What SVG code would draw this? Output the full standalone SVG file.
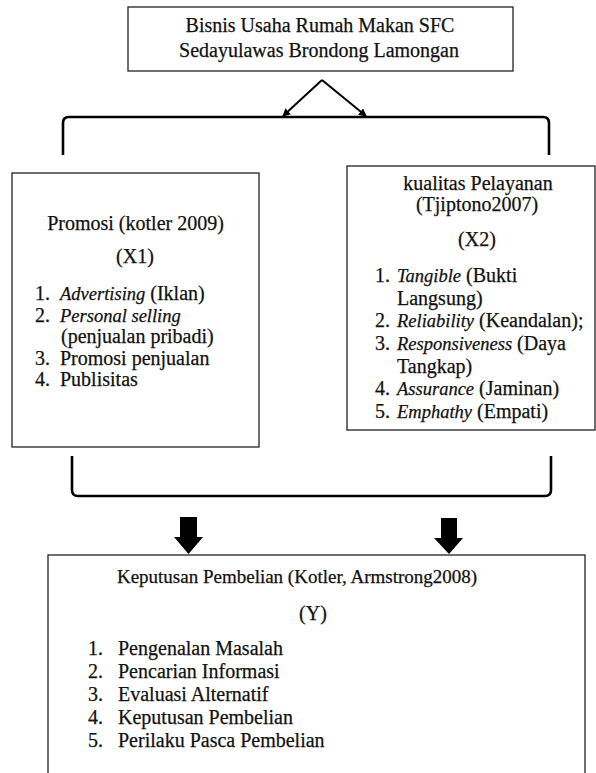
<svg xmlns="http://www.w3.org/2000/svg" width="596" height="773" viewBox="0 0 596 773">
<style>
  .box { fill: #ffffff; stroke: #222222; stroke-width: 1.3; }
  .t { font-family: "Liberation Serif", "Times New Roman", serif; font-size: 20px; fill: #111111; stroke: #111111; stroke-width: 0.25; }
  .c { text-anchor: middle; }
  .i { font-style: italic; font-size: 18.5px; }
  .br { fill: none; stroke: #000000; stroke-width: 2.6; stroke-linejoin: round; }
  .ln { fill: none; stroke: #000000; stroke-width: 2; }
  .blk { fill: #000000; }
</style>
<defs>
  <marker id="ah" markerWidth="8" markerHeight="8" refX="7" refY="4" orient="auto" markerUnits="userSpaceOnUse">
    <path d="M0,0 L8,4 L0,8 Z" fill="#000000"/>
  </marker>
</defs>
<rect width="596" height="773" fill="#ffffff"/>

<g id="connectors">
  <path class="ln" d="M322,80 L283,116" marker-end="url(#ah)"/>
  <path class="ln" d="M322,80 L366,116" marker-end="url(#ah)"/>
  <path class="br" d="M63,155 L63,123 Q63,117 69,117 L543,117 Q549,117 549,123 L549,155"/>
  <path class="br" d="M72,456 L72,490 Q72,496 78,496 L545,496 Q551,496 551,490 L551,456"/>
  <path class="blk" d="M180,517 L197,517 L197,537 L203,537 L188.5,554 L174,537 L180,537 Z"/>
  <path class="blk" d="M441,518 L457,518 L457,538 L463,538 L449,554 L434,538 L441,538 Z"/>
</g>

<g id="node-top">
  <rect class="box" x="128" y="7" width="385" height="64"/>
  <text class="t c" x="320" y="32">Bisnis Usaha Rumah Makan SFC</text>
  <text class="t c" x="319" y="57">Sedayulawas Brondong Lamongan</text>
</g>

<g id="node-x1">
  <rect class="box" x="12" y="173" width="247" height="274"/>
  <text class="t c" x="135.5" y="230">Promosi (kotler 2009)</text>
  <text class="t c" x="135" y="263">(X1)</text>
  <text class="t" x="35" y="300">1.</text>
  <text class="t" x="60" y="300"><tspan class="i">Advertising</tspan> (Iklan)</text>
  <text class="t" x="35" y="321.5">2.</text>
  <text class="t" x="60" y="321.5"><tspan class="i">Personal selling</tspan></text>
  <text class="t" x="61" y="343">(penjualan pribadi)</text>
  <text class="t" x="35" y="364.5">3.</text>
  <text class="t" x="60" y="364.5">Promosi penjualan</text>
  <text class="t" x="35" y="386">4.</text>
  <text class="t" x="60" y="386">Publisitas</text>
</g>

<g id="node-x2">
  <rect class="box" x="347" y="166" width="248" height="264"/>
  <text class="t c" x="478" y="190">kualitas Pelayanan</text>
  <text class="t c" x="477" y="211">(Tjiptono2007)</text>
  <text class="t c" x="477" y="246">(X2)</text>
  <text class="t" x="375" y="282">1.</text>
  <text class="t" x="397" y="282"><tspan class="i">Tangible</tspan> (Bukti</text>
  <text class="t" x="397" y="304.5">Langsung)</text>
  <text class="t" x="375" y="327">2.</text>
  <text class="t" x="397" y="327"><tspan class="i">Reliability</tspan> (Keandalan);</text>
  <text class="t" x="375" y="350">3.</text>
  <text class="t" x="397" y="350"><tspan class="i">Responsiveness</tspan> (Daya</text>
  <text class="t" x="397" y="372.5">Tangkap)</text>
  <text class="t" x="375" y="395">4.</text>
  <text class="t" x="397" y="395"><tspan class="i">Assurance</tspan> (Jaminan)</text>
  <text class="t" x="375" y="418">5.</text>
  <text class="t" x="397" y="418"><tspan class="i">Emphathy</tspan> (Empati)</text>
</g>

<g id="node-y">
  <rect class="box" x="48" y="555" width="537" height="230"/>
  <text class="t c" x="297" y="583" style="font-size:19px">Keputusan Pembelian (Kotler, Armstrong2008)</text>
  <text class="t c" x="313" y="620">(Y)</text>
  <text class="t" x="88" y="655">1.</text>
  <text class="t" x="118" y="655">Pengenalan Masalah</text>
  <text class="t" x="88" y="678">2.</text>
  <text class="t" x="118" y="678">Pencarian Informasi</text>
  <text class="t" x="88" y="701">3.</text>
  <text class="t" x="118" y="701">Evaluasi Alternatif</text>
  <text class="t" x="88" y="724">4.</text>
  <text class="t" x="118" y="724">Keputusan Pembelian</text>
  <text class="t" x="88" y="747">5.</text>
  <text class="t" x="118" y="747">Perilaku Pasca Pembelian</text>
</g>
</svg>
